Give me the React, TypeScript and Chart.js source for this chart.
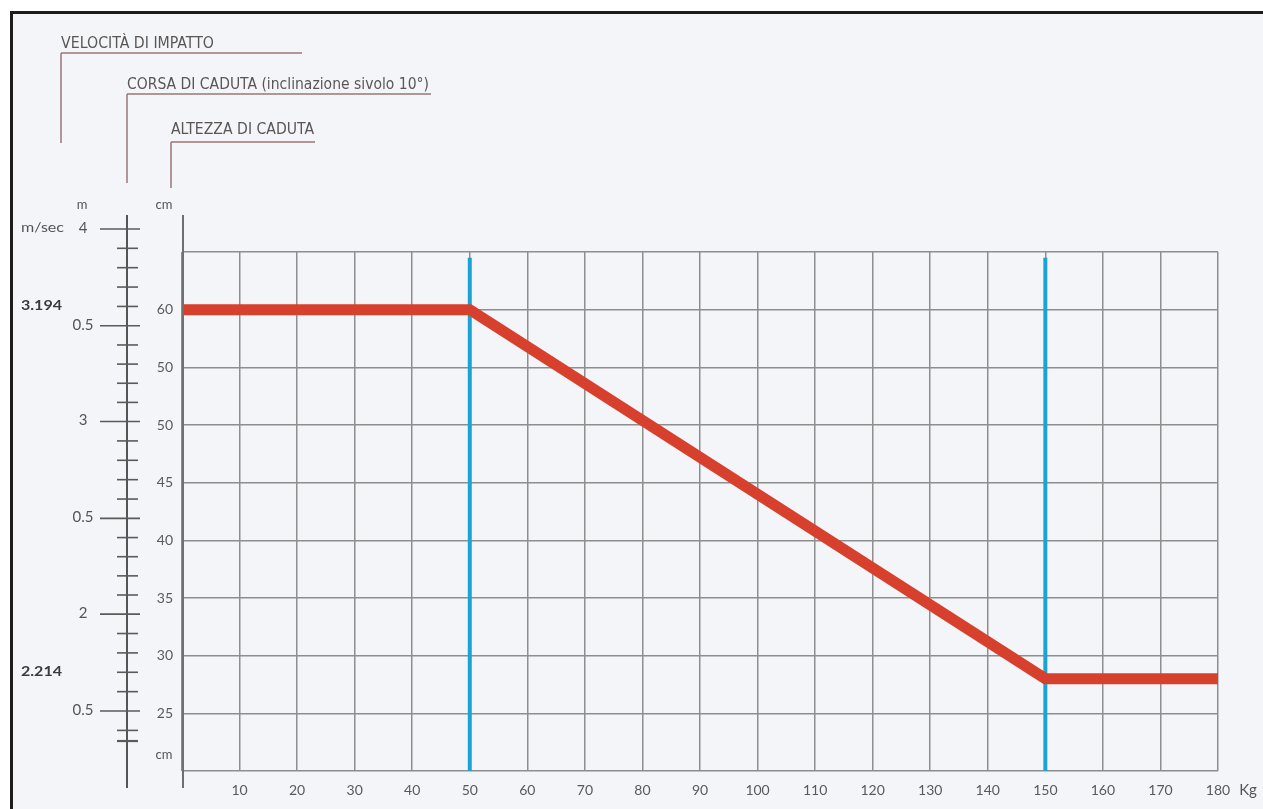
import { useEffect, useRef } from "react";
import { Chart, registerables } from "chart.js";

Chart.register(...registerables);

// ---- data ----
const weightKg = [0, 50, 150, 180];
const dropHeightCm = [60, 60, 28, 28];
const limitWeightsKg = [50, 150];
const limitLineCm = [20, 64.5];
const xTickValues = [10, 20, 30, 40, 50, 60, 70, 80, 90, 100, 110, 120, 130, 140, 150, 160, 170, 180];
const yTickValues = [25, 30, 35, 40, 45, 50, 55, 60];
const yTickLabels = ["25", "30", "35", "40", "45", "50", "50", "60"];
const velocityMajorLabels = ["4", "0.5", "3", "0.5", "2", "0.5"];
const velocityMajorAtCm = [67.0, 58.6, 50.3, 41.9, 33.6, 25.2];
const velocityMarkLabels = ["3.194", "2.214"];
const velocityMarkAtCm = [60.4, 28.6];
const titleLabels = ["VELOCITÀ DI IMPATTO", "CORSA DI CADUTA (inclinazione sivolo 10°)", "ALTEZZA DI CADUTA"];
const unitLabels = ["m/sec", "m", "cm", "cm", "Kg"];

function fitText(ctx: CanvasRenderingContext2D, text: string, x: number, y: number, w: number) {
  const m = ctx.measureText(text).width || 1;
  ctx.save();
  ctx.translate(x, y);
  ctx.scale(w / m, 1);
  ctx.fillText(text, 0, 0);
  ctx.restore();
}

function line(ctx: CanvasRenderingContext2D, x1: number, y1: number, x2: number, y2: number) {
  ctx.beginPath();
  ctx.moveTo(x1, y1);
  ctx.lineTo(x2, y2);
  ctx.stroke();
}

const decor = {
  id: "decor",
  beforeDraw(chart: any) {
    const { ctx, width, height } = chart;
    ctx.save();
    ctx.fillStyle = "#ffffff";
    ctx.fillRect(0, 0, width, height);
    ctx.fillStyle = "#f3f5f9";
    ctx.fillRect(13, 14, width - 13, height - 14);
    ctx.fillStyle = "#1c1c1c";
    ctx.fillRect(10, 11, width - 10, 3);
    ctx.fillRect(10, 11, 3, height - 11);
    ctx.restore();
  },
  afterDraw(chart: any) {
    const { ctx, chartArea: a } = chart;
    const ys = chart.scales.y;
    const xs = chart.scales.x;
    ctx.save();

    // cm axis (extended)
    ctx.strokeStyle = "#6f6f6f";
    ctx.lineWidth = 2;
    line(ctx, a.left + 1, a.top - 37, a.left + 1, a.bottom + 17);

    // velocity / m axis
    const mx = a.left - 55;
    ctx.strokeStyle = "#555555";
    ctx.lineWidth = 2;
    line(ctx, mx, a.top - 37, mx, a.bottom + 17);

    // ticks
    ctx.lineWidth = 1.6;
    for (let i = 0; i < velocityMajorAtCm.length; i++) {
      const v0 = velocityMajorAtCm[i];
      const isLast = i === velocityMajorAtCm.length - 1;
      const step = (isLast ? velocityMajorAtCm[i - 1] - v0 : v0 - velocityMajorAtCm[i + 1]) / 5;
      const py = ys.getPixelForValue(v0);
      ctx.strokeStyle = "#5a5a5a";
      line(ctx, mx - 27, py, mx + 13, py);
      const count = isLast ? 1 : 4;
      for (let k = 1; k <= count; k++) {
        const p = ys.getPixelForValue(v0 - k * step);
        line(ctx, mx - 10, p, mx + 11, p);
      }
    }
    {
      const last = velocityMajorAtCm[velocityMajorAtCm.length - 1];
      const p = ys.getPixelForValue(last) + 30;
      ctx.lineWidth = 2.2;
      line(ctx, mx - 10, p, mx + 11, p);
    }

    ctx.fillStyle = "#555555";
    ctx.textBaseline = "middle";
    ctx.font = "15px Lato";
    ctx.textAlign = "center";
    velocityMajorLabels.forEach((lab, i) => {
      ctx.fillText(lab, mx - 44, ys.getPixelForValue(velocityMajorAtCm[i]) - 1);
    });

    ctx.font = "bold 14px Lato";
    ctx.fillStyle = "#3a3a3a";
    ctx.textAlign = "left";
    velocityMarkLabels.forEach((lab, i) => {
      fitText(ctx, lab, 21, ys.getPixelForValue(velocityMarkAtCm[i]), 41);
    });

    // unit labels
    ctx.fillStyle = "#555555";
    ctx.font = "14px Lato";
    ctx.textAlign = "left";
    fitText(ctx, unitLabels[0], 21, ys.getPixelForValue(velocityMajorAtCm[0]) - 1, 43);
    ctx.textAlign = "center";
    ctx.font = "13px Lato";
    ctx.fillText(unitLabels[1], mx - 45, a.top - 47);
    ctx.fillText(unitLabels[2], a.left - 18, a.top - 47);
    ctx.fillText(unitLabels[3], a.left - 18, ys.getPixelForValue(21.4));
    ctx.font = "15px Lato";
    ctx.fillText(unitLabels[4], xs.getPixelForValue(180) + 30, a.bottom + 19);

    // titles with leader lines
    const titles = [
      { x: 61, y: 44, w: 153, ul: 302, down: 143 },
      { x: 127, y: 85, w: 302, ul: 431, down: 183 },
      { x: 171, y: 130, w: 143, ul: 315, down: 188 },
    ];
    ctx.font = "15px 'DejaVu Sans Condensed'";
    ctx.textAlign = "left";
    ctx.textBaseline = "middle";
    titles.forEach((t, i) => {
      ctx.fillStyle = "#5a5656";
      fitText(ctx, titleLabels[i], t.x, t.y, t.w);
      const uy = t.y + 9 + (i === 2 ? 3 : 0);
      ctx.strokeStyle = "#9c7474";
      ctx.lineWidth = 1.5;
      line(ctx, t.x, uy, t.ul, uy);
      line(ctx, t.x, uy, t.x, t.down);
    });

    ctx.restore();
  },
};

export default function App() {
  const ref = useRef<HTMLCanvasElement | null>(null);

  useEffect(() => {
    document.body.style.margin = "0";
    const canvas = ref.current;
    if (!canvas) return;
    const chart = new Chart(canvas, {
      type: "line",
      data: {
        datasets: [
          {
            label: "Altezza di caduta",
            data: weightKg.map((x, i) => ({ x, y: dropHeightCm[i] })),
            borderColor: "#d8402e",
            borderWidth: 11,
            pointRadius: 0,
            tension: 0,
            fill: false,
            borderJoinStyle: "miter",
          },
          ...limitWeightsKg.map((w) => ({
            label: "limite " + w,
            data: limitLineCm.map((y) => ({ x: w, y })),
            borderColor: "#1ba3d6",
            borderWidth: 4,
            pointRadius: 0,
            tension: 0,
            fill: false,
          })),
        ],
      },
      options: {
        animation: false,
        responsive: false,
        devicePixelRatio: 1,
        layout: { padding: { left: 137, top: 252, right: 45, bottom: 8 } },
        plugins: { legend: { display: false }, tooltip: { enabled: false } },
        scales: {
          x: {
            type: "linear",
            min: 0,
            max: 180,
            afterFit: (s: any) => {
              s.height = 30;
            },
            border: { display: false },
            grid: { color: "#8e8e8e", lineWidth: 1.5, drawTicks: false },
            ticks: {
              stepSize: 10,
              autoSkip: false,
              maxRotation: 0,
              padding: 11,
              color: "#5a5a5a",
              font: { family: "Lato", size: 14 },
              callback: (v: any) => (xTickValues.includes(Number(v)) ? String(v) : ""),
            },
          },
          y: {
            type: "linear",
            min: 20,
            max: 65,
            afterFit: (s: any) => {
              s.width = 45;
            },
            border: { display: false },
            grid: { color: "#8e8e8e", lineWidth: 1.5, drawTicks: false },
            ticks: {
              stepSize: 5,
              autoSkip: false,
              padding: 9,
              color: "#5a5a5a",
              font: { family: "Lato", size: 14 },
              callback: (v: any) => {
                const i = yTickValues.indexOf(Number(v));
                return i >= 0 ? yTickLabels[i] : "";
              },
            },
          },
        },
      } as any,
      plugins: [decor],
    });
    return () => chart.destroy();
  }, []);

  return (
    <canvas
      ref={ref}
      width={1263}
      height={809}
      style={{ display: "block", width: "1263px", height: "809px" }}
    />
  );
}
